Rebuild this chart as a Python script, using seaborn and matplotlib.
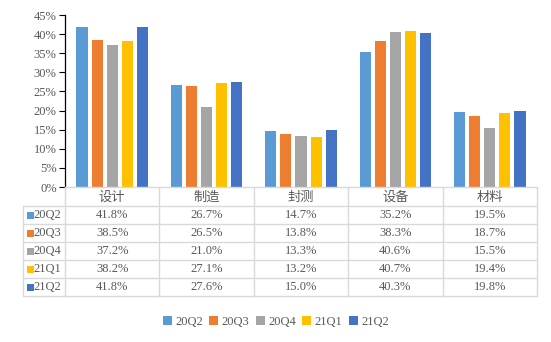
import matplotlib
matplotlib.use("Agg")
import matplotlib.pyplot as plt
import matplotlib.transforms as mtransforms
from matplotlib.patches import Rectangle
from matplotlib.lines import Line2D
from matplotlib.ticker import FuncFormatter
import seaborn as sns
import pandas as pd

categories = ["设计", "制造", "封测", "设备", "材料"]
series = ["20Q2", "20Q3", "20Q4", "21Q1", "21Q2"]
v_20Q2 = [41.8, 26.7, 14.7, 35.2, 19.5]
v_20Q3 = [38.5, 26.5, 13.8, 38.3, 18.7]
v_20Q4 = [37.2, 21.0, 13.3, 40.6, 15.5]
v_21Q1 = [38.2, 27.1, 13.2, 40.7, 19.4]
v_21Q2 = [41.8, 27.6, 15.0, 40.3, 19.8]
values = [v_20Q2, v_20Q3, v_20Q4, v_21Q1, v_21Q2]
colors = ["#5B9BD5", "#ED7D31", "#A5A5A5", "#FFC000", "#4472C4"]
yticks = [0, 5, 10, 15, 20, 25, 30, 35, 40, 45]

rows = []
for s, vals in zip(series, values):
    for c, v in zip(categories, vals):
        rows.append({"cat": c, "series": s, "val": v})
df = pd.DataFrame(rows)

sns.set_theme(style="white")
plt.rcParams["font.family"] = ["Liberation Serif", "Noto Sans CJK SC", "DejaVu Sans"]

W, H = 551, 342
fig = plt.figure(figsize=(W / 100, H / 100), dpi=100)
fig.patch.set_facecolor("white")

def fx(x):
    return x / W

def fy(y):
    return 1 - y / H

left, right, top, bottom = 65, 537, 15, 187
ax = fig.add_axes([fx(left), fy(bottom), fx(right - left), (bottom - top) / H])

sns.barplot(data=df, x="cat", y="val", hue="series", order=categories,
            hue_order=series, palette=colors, width=0.8, gap=0.26,
            saturation=1, ax=ax, legend=False, edgecolor="none", linewidth=0)

ax.set_xlim(-0.5, len(categories) - 0.5)
ax.set_ylim(0, 45)
ax.set_yticks(yticks)
ax.yaxis.set_major_formatter(FuncFormatter(lambda v, p: f"{v:.0f}%"))
ax.set_xlabel("")
ax.set_ylabel("")
ax.set_xticks([])
txtc = "#595959"
ax.tick_params(axis="y", direction="out", length=4, width=0.8, color="black",
               labelsize=9, labelcolor=txtc, pad=2, left=True)
for s in ["top", "right"]:
    ax.spines[s].set_visible(False)
ax.spines["left"].set_color("black")
ax.spines["left"].set_linewidth(0.9)
ax.spines["bottom"].set_color("#D9D9D9")
ax.spines["bottom"].set_linewidth(1.0)

# data table below the axes
tr = mtransforms.blended_transform_factory(ax.transData, fig.transFigure)
gridc = "#D9D9D9"
row_lines = [206, 224, 242, 260, 278, 296]
tab_left = 23
for y in row_lines:
    fig.add_artist(Line2D([fx(tab_left), fx(right)], [fy(y), fy(y)],
                          color=gridc, lw=1.0))
fig.add_artist(Line2D([fx(tab_left), fx(tab_left)], [fy(206), fy(296)], color=gridc, lw=1.0))
for k in range(len(categories) + 1):
    xk = k - 0.5
    fig.add_artist(Line2D([xk, xk], [fy(bottom), fy(296)], color=gridc, lw=1.0,
                          transform=tr))
for i, c in enumerate(categories):
    fig.text(i, fy(197), c, transform=tr, ha="center", va="center",
             fontsize=9.5, color=txtc, family=["Noto Sans CJK SC", "DejaVu Sans"])
for r, (s, vals, col) in enumerate(zip(series, values, colors)):
    yc = (row_lines[r] + row_lines[r + 1]) / 2
    fig.add_artist(Rectangle((fx(27), fy(yc + 3.5)), fx(6.5), 7 / H,
                             facecolor=col, edgecolor="none"))
    fig.text(fx(33.5), fy(yc), s, ha="left", va="center", fontsize=9, color=txtc)
    for i, v in enumerate(vals):
        fig.text(i, fy(yc), f"{v:.1f}%", transform=tr, ha="center", va="center",
                 fontsize=9, color=txtc)

handles = [Rectangle((0, 0), 1, 1, facecolor=c, edgecolor="none") for c in colors]
fig.legend(handles, series, loc="center", bbox_to_anchor=(fx(276), fy(322)),
           ncol=5, frameon=False, fontsize=9, handlelength=0.7, handleheight=0.7,
           handletextpad=0.3, columnspacing=0.5, labelcolor=txtc)

fig.savefig("out.png", dpi=100, facecolor="white")
